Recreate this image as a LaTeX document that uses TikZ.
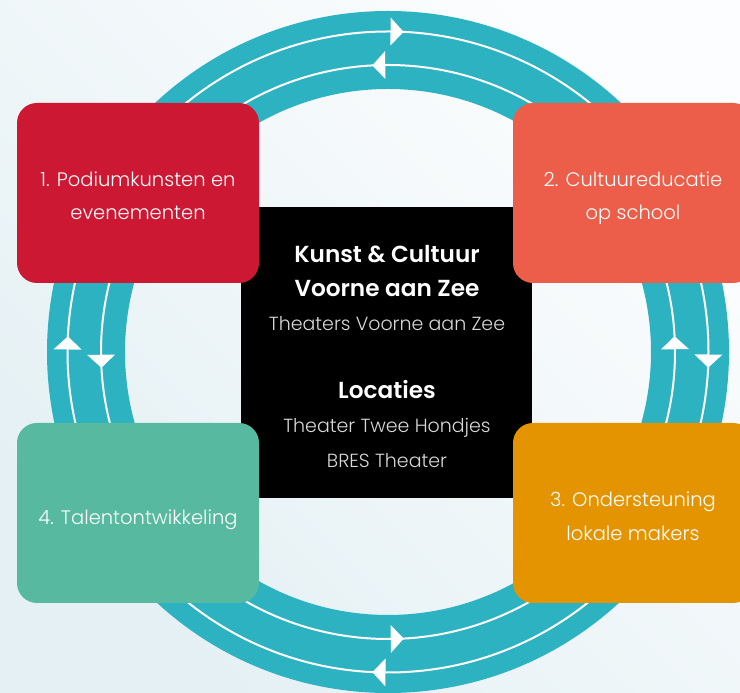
\documentclass[tikz,border=0pt]{standalone}
\usepackage{fontspec}
\setmainfont{Poppins}[UprightFont=* Light, BoldFont=* SemiBold]
\definecolor{bgUL}{HTML}{FCFDFE}
\definecolor{bgLR}{HTML}{E4F0F4}
\definecolor{ringc}{HTML}{2DB2C2}
\definecolor{c1}{HTML}{CC1833}
\definecolor{c2}{HTML}{EC5E4A}
\definecolor{c3}{HTML}{E39400}
\definecolor{c4}{HTML}{56B9A0}
\definecolor{subc}{HTML}{D8D8D8}
\begin{document}
\begin{tikzpicture}[x=1pt,y=1pt,
  box/.style={rectangle, rounded corners=20pt, minimum width=242pt, minimum height=180pt, inner sep=0pt, fill=#1},
  boxtext/.style={anchor=base, text=white, font=\fontsize{19.5}{22}\selectfont, inner sep=0pt},
  titletext/.style={anchor=base, text=white, font=\fontsize{23.2}{26}\selectfont\bfseries, inner sep=0pt},
  subtext/.style={anchor=base, text=subc, font=\fontsize{19}{22}\selectfont, inner sep=0pt},
  arrowhead/.style={fill=white}
]
\useasboundingbox (0,0) rectangle (740,693);
\clip (0,0) rectangle (740,693);
\shade[top color=bgUL, bottom color=bgLR, shading angle=-45] (0,0) rectangle (740,693);
% ring
\begin{scope}[shift={(388,341)}]
  \fill[ringc, even odd rule] (0,0) circle[radius=341] (0,0) circle[radius=263];
  \draw[white, line width=2pt] (0,0) circle[radius=320.5];
  \draw[white, line width=2pt] (0,0) circle[radius=287];
  \foreach \k in {0,90,180,270}{
    \fill[arrowhead] (\k-2.8:320.5) -- (\k-0.45:334.5) -- (\k-0.45:306.5) -- cycle;
    \fill[arrowhead] (\k+3.15:287) -- (\k+0.55:301) -- (\k+0.55:273) -- cycle;
  }
\end{scope}
% centre block
\node[rectangle, fill=black, minimum width=291pt, minimum height=291pt, inner sep=0pt] (centre) at (386.5,340.5) {};
\node[titletext] (k1) at (387,430) {Kunst \& Cultuur};
\node[titletext] (k2) at (387,396) {Voorne aan Zee};
\node[subtext] (k3) at (387,362) {Theaters Voorne aan Zee};
\node[titletext] (k4) at (387,294) {Locaties};
\node[subtext] (k5) at (387,260) {Theater Twee Hondjes};
\node[subtext] (k6) at (387,225) {BRES Theater};
% boxes
\node[box=c1] (b1) at (138,500) {};
\node[box=c2, minimum width=240pt] (b2) at (633,500) {};
\node[box=c3, minimum width=240pt] (b3) at (633,180) {};
\node[box=c4] (b4) at (138,180) {};
\node[boxtext] (t1a) at (138,506) {1. Podiumkunsten en};
\node[boxtext] (t1b) at (138,473) {evenementen};
\node[boxtext] (t2a) at (633,506) {2. Cultuureducatie};
\node[boxtext] (t2b) at (633,473) {op school};
\node[boxtext] (t3a) at (633,186) {3. Ondersteuning};
\node[boxtext] (t3b) at (633,152) {lokale makers};
\node[boxtext] (t4a) at (138,168) {4. Talentontwikkeling};
\end{tikzpicture}
\end{document}
